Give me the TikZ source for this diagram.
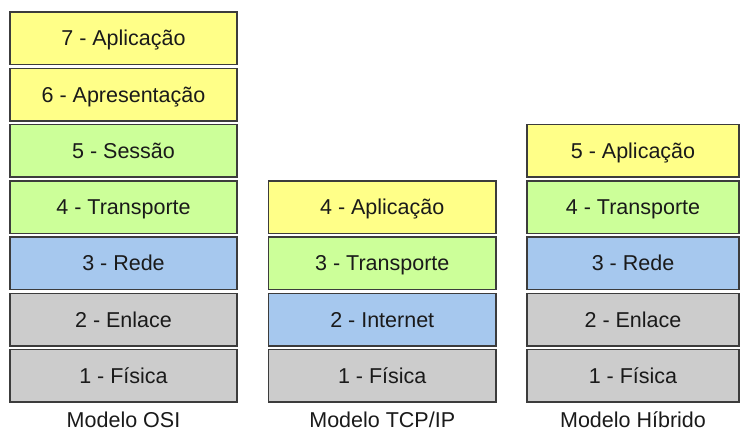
\documentclass[tikz,border=0pt]{standalone}
\usepackage{fontspec}
\setmainfont{Liberation Sans}
\definecolor{layyellow}{HTML}{FFFF88}
\definecolor{laygreen}{HTML}{CCFF99}
\definecolor{layblue}{HTML}{A6C8EE}
\definecolor{laygray}{HTML}{CCCCCC}
\definecolor{layborder}{HTML}{3C3C3C}
\definecolor{laytext}{HTML}{1A1A1A}
\tikzset{
  layer/.style={draw=layborder, line width=1.5pt, rectangle, inner sep=0pt,
    minimum height=52.5pt, text=laytext,
    font=\fontsize{21.5}{26}\selectfont, text height=15.4pt, text depth=0pt},
  osibox/.style={layer, minimum width=227pt},
  tcpbox/.style={layer, minimum width=227.5pt},
  hibbox/.style={layer, minimum width=212pt},
  modelname/.style={anchor=base, inner sep=0pt, text depth=0pt, text=laytext,
    font=\fontsize{21.5}{26}\selectfont}
}
\begin{document}
\begin{tikzpicture}[x=1pt, y=-1pt]
  \useasboundingbox (0,0) rectangle (741,432);
  \fill[white] (0,0) rectangle (741,432);

  % OSI reference model, seven layers
  \node[osibox, fill=layyellow] (osi7) at (123.5, 38.25) {7 - Aplicação};
  \node[osibox, fill=layyellow] (osi6) at (123.5, 94.5) {6 - Apresentação};
  \node[osibox, fill=laygreen]  (osi5) at (123.5,150.75) {5 - Sessão};
  \node[osibox, fill=laygreen]  (osi4) at (123.5,207) {4 - Transporte};
  \node[osibox, fill=layblue]   (osi3) at (123.5,263.25) {3 - Rede};
  \node[osibox, fill=laygray]   (osi2) at (123.5,319.5) {2 - Enlace};
  \node[osibox, fill=laygray]   (osi1) at (123.5,375.75) {1 - Física};

  % TCP/IP model, four layers
  \node[tcpbox, fill=layyellow] (tcp4) at (382.25,207) {4 - Aplicação};
  \node[tcpbox, fill=laygreen]  (tcp3) at (382.25,263.25) {3 - Transporte};
  \node[tcpbox, fill=layblue]   (tcp2) at (382.25,319.5) {2 - Internet};
  \node[tcpbox, fill=laygray]   (tcp1) at (382.25,375.75) {1 - Física};

  % hybrid model, five layers
  \node[hibbox, fill=layyellow] (hib5) at (633,150.75) {5 - Aplicação};
  \node[hibbox, fill=laygreen]  (hib4) at (633,207) {4 - Transporte};
  \node[hibbox, fill=layblue]   (hib3) at (633,263.25) {3 - Rede};
  \node[hibbox, fill=laygray]   (hib2) at (633,319.5) {2 - Enlace};
  \node[hibbox, fill=laygray]   (hib1) at (633,375.75) {1 - Física};

  % model captions
  \node[modelname] (osiname) at (123.5,427) {Modelo OSI};
  \node[modelname] (tcpname) at (382.25,427) {Modelo TCP/IP};
  \node[modelname] (hibname) at (633,427) {Modelo Híbrido};
\end{tikzpicture}
\end{document}
